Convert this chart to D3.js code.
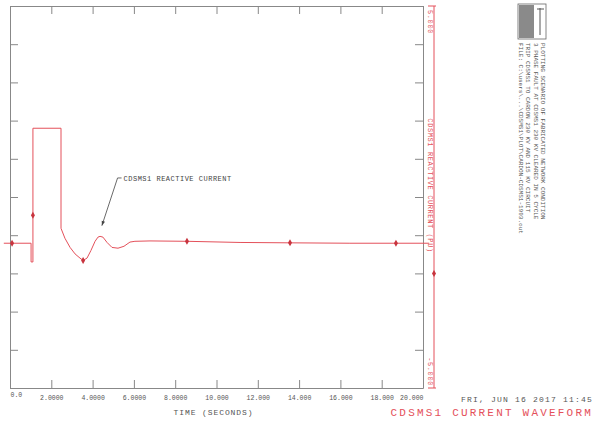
<!DOCTYPE html>
<html>
<head>
<meta charset="utf-8">
<script src="https://cdn.jsdelivr.net/npm/d3@7"></script>
<style>
body { margin: 0; background: #fff; }
svg text { font-family: "Liberation Mono", "DejaVu Sans Mono", monospace; }
</style>
</head>
<body>
<div id="chart"></div>
<script>
// channel data
var timeSec = [-0.3, 0.1, 1.02, 1.02, 1.11, 1.11, 1.11, 2.47, 2.47, 2.66, 2.91, 3.15, 3.39, 3.54, 3.73,
    3.92, 4.12, 4.26, 4.36, 4.50, 4.70, 4.94, 5.23, 5.52, 5.81, 6.05, 6.78, 8.57, 11.14, 13.56, 16.46, 18.69, 20.3];
var reactiveCurrent = [-1.21, -1.21, -1.21, -1.70, -1.70, -0.48, 1.80, 1.80, -0.82, -1.08, -1.32, -1.49, -1.60, -1.66, -1.60,
    -1.40, -1.16, -1.05, -1.03, -1.05, -1.19, -1.32, -1.34, -1.29, -1.18, -1.16, -1.15, -1.16, -1.19, -1.20, -1.21, -1.21, -1.21];
var markerIdx = [1, 5, 13, 27, 29, 31];

var xTickValues = [0, 2, 4, 6, 8, 10, 12, 14, 16, 18, 20];
var xTickLabels = ["0.0", "2.0000", "4.0000", "6.0000", "8.0000", "10.000", "12.000", "14.000", "16.000", "18.000", "20.000"];
var yTickValues = [-5, -4, -3, -2, -1, 0, 1, 2, 3, 4, 5];
var yRangeLabels = ["-5.000", "5.000"];
var channelName = "CDSMS1 REACTIVE CURRENT (PU)";
var annotationText = "CDSMS1 REACTIVE CURRENT";
var annotationAt = [5.5, 0.42];   // time, value of label
var arrowTip = [4.45, -0.75];
var xAxisTitle = "TIME (SECONDS)";
var plotDate = "FRI, JUN 16 2017 11:45";
var plotTitle = "CDSMS1 CURRENT WAVEFORM";
var titleLines = [
    "PLOTTING SCENARIO OF FABRICATED NETWORK CONDITION",
    "3 PHASE FAULT AT CDSMS1 230 KV CLEARED IN 5 CYCLE",
    "TRIP CDSMS1 TO CARDON 230 KV AND 115 KV CIRCUIT",
    "FILE: C:\\users\\...\\CDSMS1\\PLOT\\CARDON-CDSMS1-1993.out"
];

var W = 595, H = 425;
var margins = [6, 172, 37, 10]; // top, right, bottom, left
var width = W - margins[1] - margins[3];
var height = H - margins[0] - margins[2];
var red = "#e4505a", gray = "#888", ink = "#555";

var svg = d3.select("#chart").append("svg").attr("width", W).attr("height", H);
svg.append("rect").attr("width", W).attr("height", H).attr("fill", "#fff");
var graph = svg.append("g").attr("transform", "translate(" + margins[3] + "," + margins[0] + ")");

var x = d3.scaleLinear().domain([0, 20]).range([0, width]);
var y = d3.scaleLinear().domain([-5, 5]).range([height, 0]);

// frame axes, ticks pointing inward
var xAxis = d3.axisBottom(x).tickValues(xTickValues).tickSize(-8).tickSizeOuter(0).tickPadding(7)
    .tickFormat(function(d, i) { return xTickLabels[i]; });
var gx = graph.append("g").attr("transform", "translate(0," + height + ")").call(xAxis);
graph.append("g").call(d3.axisTop(x).tickValues(xTickValues).tickSize(-8).tickSizeOuter(0).tickFormat(""));
graph.append("g").call(d3.axisLeft(y).tickValues(yTickValues).tickSize(-8).tickSizeOuter(0).tickFormat(""));
graph.append("g").attr("transform", "translate(" + width + ",0)")
    .call(d3.axisRight(y).tickValues(yTickValues).tickSize(-8).tickSizeOuter(0).tickFormat(""));
graph.selectAll(".domain, .tick line").attr("stroke", gray);
gx.selectAll("text").attr("font-size", 6.5).attr("fill", ink)
    .style("font-family", "'Liberation Mono', monospace");
gx.selectAll("text").filter(function(d, i) { return i === 0; })
    .attr("text-anchor", "start").attr("y", 4).attr("x", 0);
gx.selectAll("text").filter(function(d, i) { return i === xTickValues.length - 1; })
    .attr("text-anchor", "end").attr("x", 0);

graph.append("text").attr("text-anchor", "middle")
    .attr("transform", "translate(" + (x(10) - 3) + "," + (height + 27) + ")")
    .attr("font-size", 8).attr("letter-spacing", 0.9).attr("fill", ink).text(xAxisTitle);

// channel curve
var line = d3.line()
    .x(function(i) { return x(timeSec[i]); })
    .y(function(i) { return y(reactiveCurrent[i]); });
graph.append("path").datum(d3.range(timeSec.length))
    .attr("d", line).attr("fill", "none").attr("stroke", red).attr("stroke-width", 1);
var sym = d3.symbol().type(d3.symbolDiamond).size(14);
graph.selectAll(".mk").data(markerIdx).enter().append("path")
    .attr("class", "mk").attr("d", sym).attr("fill", "#c8343e")
    .attr("transform", function(i) { return "translate(" + x(timeSec[i]) + "," + y(reactiveCurrent[i]) + ")"; });

// annotation with arrow
var lx = x(annotationAt[0]), ly = y(annotationAt[1]);
var tx = x(arrowTip[0]), ty = y(arrowTip[1]);
graph.append("path").attr("d", "M" + (lx - 2) + "," + (ly - 3) + "L" + (lx - 6) + "," + (ly - 3) + "L" + tx + "," + ty)
    .attr("fill", "none").attr("stroke", "#444").attr("stroke-width", 0.8);
var ang = Math.atan2(ty - (ly - 3), tx - (lx - 6));
var ah = 5;
graph.append("path")
    .attr("d", "M" + tx + "," + ty
        + "L" + (tx - ah * Math.cos(ang - 0.35)) + "," + (ty - ah * Math.sin(ang - 0.35))
        + "L" + (tx - ah * Math.cos(ang + 0.35)) + "," + (ty - ah * Math.sin(ang + 0.35)) + "Z")
    .attr("fill", "#444");
graph.append("text").attr("x", lx).attr("y", ly).attr("font-size", 7).attr("letter-spacing", 0.5)
    .attr("fill", "#444").text(annotationText);

// red channel axis on the right
var rx = width + 11;
var red_g = graph.append("g").attr("transform", "translate(" + rx + ",0)");
red_g.append("line").attr("y1", y(5)).attr("y2", y(-5)).attr("stroke", red);
red_g.selectAll(".cap").data([-5, 5]).enter().append("line")
    .attr("x1", -6).attr("x2", 2).attr("y1", function(d) { return y(d); }).attr("y2", function(d) { return y(d); })
    .attr("stroke", red);
red_g.append("text").attr("transform", "translate(-6," + (y(5) + 4) + ")rotate(90)")
    .attr("font-size", 7).attr("letter-spacing", 0.6).attr("fill", red).text(yRangeLabels[1]);
red_g.append("text").attr("text-anchor", "end").attr("transform", "translate(-6," + (y(-5) - 2) + ")rotate(90)")
    .attr("font-size", 7).attr("letter-spacing", 0.6).attr("fill", red).text(yRangeLabels[0]);
red_g.append("text").attr("text-anchor", "middle").attr("transform", "translate(-6," + y(0.3) + ")rotate(90)")
    .attr("font-size", 7).attr("letter-spacing", 0.6).attr("fill", red).text(channelName);
red_g.append("path").attr("d", sym).attr("fill", "#c8343e").attr("transform", "translate(0," + y(-2) + ")");

// title block, rotated
var tb = svg.append("g");
tb.append("rect").attr("x", 518).attr("y", 4).attr("width", 28).attr("height", 35)
    .attr("fill", "#fff").attr("stroke", "#666").attr("stroke-width", 0.8);
tb.append("rect").attr("x", 519).attr("y", 5).attr("width", 15).attr("height", 33).attr("fill", "#8a8a8a");
tb.append("line").attr("x1", 540).attr("x2", 540).attr("y1", 8).attr("y2", 35).attr("stroke", "#555");
tb.append("line").attr("x1", 537).attr("x2", 544).attr("y1", 9).attr("y2", 9).attr("stroke", "#555");
tb.selectAll(".tl").data(titleLines).enter().append("text")
    .attr("transform", function(d, i) { return "translate(" + (541 - i * 7.5) + ",43)rotate(90)"; })
    .attr("font-size", 6).attr("fill", ink).text(function(d) { return d; });

svg.append("text").attr("x", 593).attr("y", 402).attr("text-anchor", "end")
    .attr("font-size", 8).attr("letter-spacing", 1.2).attr("fill", ink).text(plotDate);
svg.append("text").attr("x", 593).attr("y", 416).attr("text-anchor", "end")
    .attr("font-size", 11).attr("letter-spacing", 2.2).attr("fill", red).text(plotTitle);
</script>
</body>
</html>
